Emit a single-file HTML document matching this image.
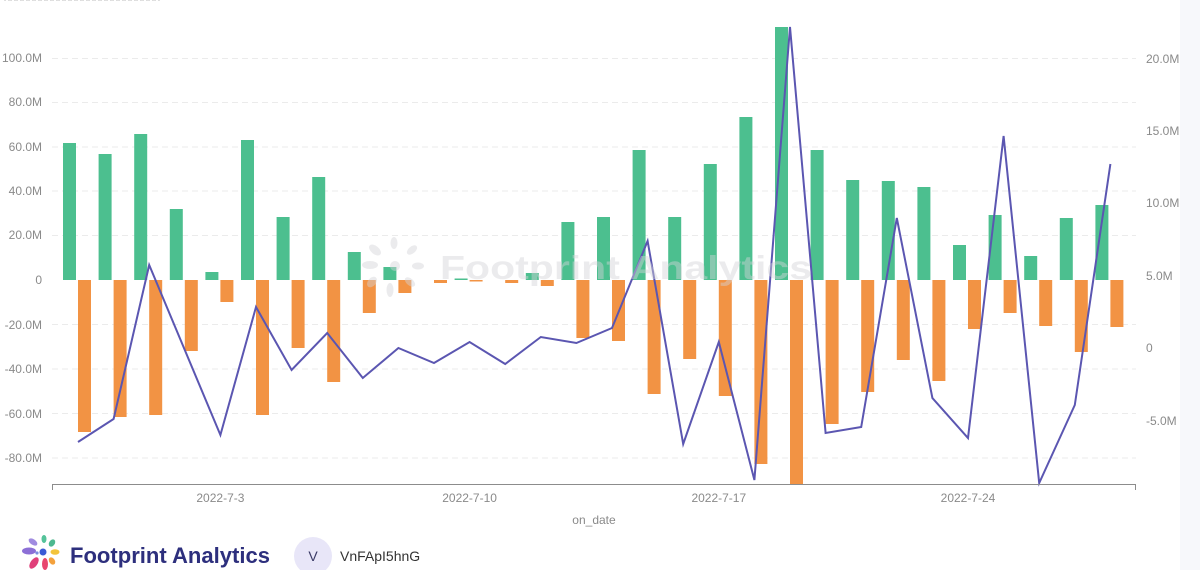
<!DOCTYPE html>
<html><head><meta charset="utf-8"><style>
html,body{margin:0;padding:0;background:#fff;}
svg{display:block;font-family:"Liberation Sans",sans-serif;}
</style></head><body>
<svg width="1200" height="570" viewBox="0 0 1200 570" xmlns="http://www.w3.org/2000/svg">
<rect x="0" y="0" width="1200" height="570" fill="#fff"/>
<rect x="1180" y="0" width="20" height="570" fill="#f7f8fb"/>
<text x="4" y="1" font-size="12" fill="#c8c8c8">xxxxxxxxxxxxxxxxxxxxxxxxxx</text>
<!-- gridlines -->
<g stroke="#ebebeb" stroke-width="1" stroke-dasharray="6,4">
<line x1="52" x2="1136" y1="58.5" y2="58.5"/>
<line x1="52" x2="1136" y1="102.5" y2="102.5"/>
<line x1="52" x2="1136" y1="147" y2="147"/>
<line x1="52" x2="1136" y1="191" y2="191"/>
<line x1="52" x2="1136" y1="235.5" y2="235.5"/>
<line x1="52" x2="1136" y1="324.5" y2="324.5"/>
<line x1="52" x2="1136" y1="369" y2="369"/>
<line x1="52" x2="1136" y1="413.5" y2="413.5"/>
<line x1="52" x2="1136" y1="458" y2="458"/>
</g>
<!-- left axis labels -->
<g font-size="12" fill="#8a8a8a" text-anchor="end">
<text x="42" y="62">100.0M</text>
<text x="42" y="106">80.0M</text>
<text x="42" y="151">60.0M</text>
<text x="42" y="195">40.0M</text>
<text x="42" y="239">20.0M</text>
<text x="42" y="284">0</text>
<text x="42" y="329">-20.0M</text>
<text x="42" y="373">-40.0M</text>
<text x="42" y="418">-60.0M</text>
<text x="42" y="462">-80.0M</text>
</g>
<!-- right axis labels -->
<g font-size="12" fill="#8a8a8a">
<text x="1146" y="63">20.0M</text>
<text x="1146" y="135">15.0M</text>
<text x="1146" y="207">10.0M</text>
<text x="1146" y="280">5.0M</text>
<text x="1146" y="352">0</text>
<text x="1146" y="425">-5.0M</text>
</g>
<!-- green bars -->
<g fill="#4cbf8f">
<rect x="63" y="143" width="13" height="137"/>
<rect x="98.6" y="154" width="13" height="126"/>
<rect x="134.2" y="134" width="13" height="146"/>
<rect x="169.8" y="209" width="13" height="71"/>
<rect x="205.4" y="272" width="13" height="8"/>
<rect x="241" y="140" width="13" height="140"/>
<rect x="276.6" y="217" width="13" height="63"/>
<rect x="312.2" y="177" width="13" height="103"/>
<rect x="347.8" y="252" width="13" height="28"/>
<rect x="383.4" y="267" width="13" height="13"/>
<rect x="454.6" y="278.5" width="13" height="1.5"/>
<rect x="525.8" y="273" width="13" height="7"/>
<rect x="561.4" y="222" width="13" height="58"/>
<rect x="597" y="217" width="13" height="63"/>
<rect x="632.6" y="150" width="13" height="130"/>
<rect x="668.2" y="217" width="13" height="63"/>
<rect x="703.8" y="164" width="13" height="116"/>
<rect x="739.4" y="117" width="13" height="163"/>
<rect x="775" y="27" width="13" height="253"/>
<rect x="810.6" y="150" width="13" height="130"/>
<rect x="846.2" y="180" width="13" height="100"/>
<rect x="881.8" y="181" width="13" height="99"/>
<rect x="917.4" y="187" width="13" height="93"/>
<rect x="953" y="245" width="13" height="35"/>
<rect x="988.6" y="215" width="13" height="65"/>
<rect x="1024.2" y="256" width="13" height="24"/>
<rect x="1059.8" y="218" width="13" height="62"/>
<rect x="1095.4" y="205" width="13" height="75"/>
</g>
<!-- orange bars -->
<g fill="#f29344">
<rect x="78" y="280" width="13" height="152"/>
<rect x="113.6" y="280" width="13" height="137"/>
<rect x="149.2" y="280" width="13" height="135"/>
<rect x="184.8" y="280" width="13" height="71"/>
<rect x="220.4" y="280" width="13" height="22"/>
<rect x="256" y="280" width="13" height="135"/>
<rect x="291.6" y="280" width="13" height="68"/>
<rect x="327.2" y="280" width="13" height="102"/>
<rect x="362.8" y="280" width="13" height="33"/>
<rect x="398.4" y="280" width="13" height="13"/>
<rect x="434" y="280" width="13" height="3"/>
<rect x="469.6" y="280" width="13" height="1.5"/>
<rect x="505.2" y="280" width="13" height="3"/>
<rect x="540.8" y="280" width="13" height="6"/>
<rect x="576.4" y="280" width="13" height="58"/>
<rect x="612" y="280" width="13" height="61"/>
<rect x="647.6" y="280" width="13" height="114"/>
<rect x="683.2" y="280" width="13" height="79"/>
<rect x="718.8" y="280" width="13" height="116"/>
<rect x="754.4" y="280" width="13" height="184"/>
<rect x="790" y="280" width="13" height="204"/>
<rect x="825.6" y="280" width="13" height="144"/>
<rect x="861.2" y="280" width="13" height="112"/>
<rect x="896.8" y="280" width="13" height="80"/>
<rect x="932.4" y="280" width="13" height="101"/>
<rect x="968" y="280" width="13" height="49"/>
<rect x="1003.6" y="280" width="13" height="33"/>
<rect x="1039.2" y="280" width="13" height="46"/>
<rect x="1074.8" y="280" width="13" height="72"/>
<rect x="1110.4" y="280" width="13" height="47"/>
</g>
<!-- line -->
<polyline fill="none" stroke="#5b56b1" stroke-width="2" stroke-linejoin="miter" points="78,442 113.6,419 149.2,265 184.8,350 220.4,435 256,307 291.6,370 327.2,333 362.8,378 398.4,348 434,363 469.6,342 505.2,364 540.8,337 576.4,343 612,328 647.6,241 683.2,444 718.8,342 754.4,480 790,27 825.6,433 861.2,427 896.8,218 932.4,398 968,438 1003.6,136 1039.2,483 1074.8,405 1110.4,164"/>
<!-- watermark -->
<g opacity="0.45" fill="#d4d4d8">
<circle cx="395" cy="266" r="5"/>
<ellipse cx="375" cy="250" rx="7" ry="4" transform="rotate(40 375 250)"/>
<ellipse cx="394" cy="243" rx="3.5" ry="6"/>
<ellipse cx="412" cy="250" rx="6" ry="3.5" transform="rotate(-40 412 250)"/>
<ellipse cx="418" cy="266" rx="6" ry="3.5"/>
<ellipse cx="410" cy="282" rx="6" ry="3.5" transform="rotate(40 410 282)"/>
<ellipse cx="390" cy="290" rx="3.5" ry="7"/>
<ellipse cx="372" cy="282" rx="4" ry="6" transform="rotate(40 372 282)"/>
<ellipse cx="370" cy="265" rx="8" ry="4"/>
<text x="440" y="279" font-size="33" font-weight="bold" textLength="372" lengthAdjust="spacingAndGlyphs">Footprint Analytics</text>
</g>
<!-- x axis -->
<g stroke="#8c8c8c" stroke-width="1">
<line x1="52" x2="1136" y1="484.5" y2="484.5"/>
<line x1="52.5" x2="52.5" y1="484" y2="490"/>
<line x1="1135.5" x2="1135.5" y1="484" y2="490"/>
</g>
<g font-size="12" fill="#8a8a8a" text-anchor="middle">
<text x="220.4" y="502">2022-7-3</text>
<text x="469.6" y="502">2022-7-10</text>
<text x="718.8" y="502">2022-7-17</text>
<text x="968" y="502">2022-7-24</text>
<text x="594" y="524">on_date</text>
</g>
<!-- footer logo -->
<g>
<ellipse cx="29" cy="551" rx="7" ry="3.5" fill="#8c6fd6"/>
<ellipse cx="33" cy="542" rx="5" ry="2.8" fill="#a08be0" transform="rotate(35 33 542)"/>
<ellipse cx="44" cy="539" rx="2.5" ry="4" fill="#55c39a"/>
<ellipse cx="52" cy="543" rx="2.8" ry="4" fill="#4db88f" transform="rotate(35 52 543)"/>
<ellipse cx="55" cy="552" rx="4.5" ry="2.8" fill="#f3c43b"/>
<ellipse cx="52" cy="561" rx="2.8" ry="4" fill="#f4a13c" transform="rotate(-35 52 561)"/>
<ellipse cx="45" cy="564" rx="3" ry="6" fill="#e8466e"/>
<ellipse cx="34" cy="563" rx="3.5" ry="6.5" fill="#e0407a" transform="rotate(35 34 563)"/>
<circle cx="43" cy="552" r="3.5" fill="#3b5bd6"/>
<circle cx="37" cy="553" r="1.6" fill="#7c8ce0"/>
</g>
<text x="70" y="563" font-size="22" font-weight="bold" fill="#2d2f7d" textLength="200" lengthAdjust="spacingAndGlyphs">Footprint Analytics</text>
<circle cx="313" cy="556" r="19" fill="#e8e6f8"/>
<text x="313" y="561" font-size="14" fill="#3a3a66" text-anchor="middle">V</text>
<text x="340" y="561" font-size="14" fill="#333">VnFApI5hnG</text>
</svg>
</body></html>
